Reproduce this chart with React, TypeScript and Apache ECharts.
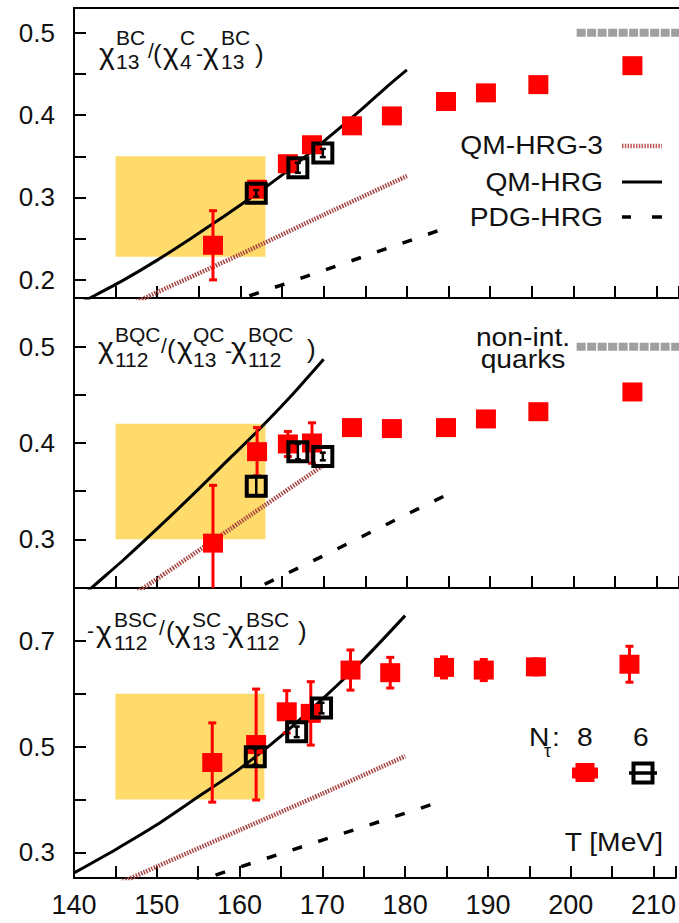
import { useEffect, useRef } from 'react';
import * as echarts from 'echarts';

const W = 679;
const H = 923;
const FONT = '"Liberation Sans", Arial, sans-serif';
const TXT = '#111';

// ---- data ----
const xLabels = [140, 150, 160, 170, 180, 190, 200, 210];
const T8 = [156.7, 162.0, 165.7, 168.6, 173.4, 178.2, 184.7, 189.5, 195.8, 207.1];
const T6 = [161.9, 166.9, 169.9];

const p1Nt8 = [0.242, 0.31, 0.341, 0.364, 0.387, 0.399, 0.4165, 0.427, 0.437, 0.46];
const p1Nt8Err = [0.042, 0.005, 0.005, 0.005, 0.004, 0.004, 0.003, 0.003, 0.003, 0.003];
const p1Nt6 = [0.305, 0.336, 0.354];
const p1Nt6Err = [0.004, 0.006, 0.005];

const p2Nt8 = [0.296, 0.391, 0.399, 0.4, 0.416, 0.415, 0.416, 0.425, 0.4325, 0.453];
const p2Nt8Err = [0.06, 0.025, 0.013, 0.021, 0.007, 0.004, 0.004, 0.004, 0.004, 0.004];
const p2Nt6 = [0.355, 0.391, 0.386];
const p2Nt6Err = [0.01, 0.008, 0.004];

const p3Nt8 = [0.47, 0.504, 0.566, 0.563, 0.645, 0.64, 0.65, 0.645, 0.651, 0.656];
const p3Nt8Err = [0.075, 0.105, 0.04, 0.06, 0.038, 0.029, 0.02, 0.02, 0.015, 0.034];
const p3Nt6 = [0.481, 0.528, 0.573];
const p3Nt6Err = [0.015, 0.01, 0.01];

// theory curves
const qmT1 = [140, 142.3, 146, 150, 154, 158, 162, 166, 170, 174, 178, 180];
const qmV1 = [0.168, 0.18, 0.2, 0.224, 0.25, 0.277, 0.305, 0.335, 0.368, 0.402, 0.438, 0.455];
const qm3T1 = [146, 150, 160, 170, 180];
const qm3V1 = [0.166, 0.185, 0.231, 0.279, 0.326];
const pdgT1 = [158, 165, 175, 185];
const pdgV1 = [0.17, 0.194, 0.229, 0.264];

const qmT2 = [140, 142.3, 146, 150, 154, 158, 162, 166, 170];
const qmV2 = [0.233, 0.251, 0.279, 0.311, 0.344, 0.378, 0.412, 0.448, 0.487];
const qm3T2 = [146, 150, 160, 170];
const qm3V2 = [0.236, 0.259, 0.318, 0.377];
const pdgT2 = [160, 170, 180, 185];
const pdgV2 = [0.241, 0.283, 0.326, 0.347];

const qmT3 = [140, 145, 150, 155, 160, 165, 170, 175, 180];
const qmV3 = [0.261, 0.305, 0.352, 0.405, 0.458, 0.52, 0.59, 0.665, 0.748];
const qm3T3 = [145, 150, 160, 170, 180];
const qm3V3 = [0.238, 0.273, 0.342, 0.411, 0.482];
const pdgT3 = [154, 160, 170, 180, 183.5];
const pdgV3 = [0.241, 0.272, 0.323, 0.374, 0.392];

const quarkT = [200.4, 216];
const quarkV1 = [0.5, 0.5];
const quarkV2 = [0.5, 0.5];

const boxT = [145, 163];
const box1 = [0.228, 0.35];
const box2 = [0.3, 0.42];
const box3 = [0.4, 0.6];

const yRange1 = [0.178, 0.53];
const yRange2 = [0.2494, 0.5506];
const yRange3 = [0.2514, 0.8003];
const yTicks1 = [0.2, 0.25, 0.3, 0.35, 0.4, 0.45, 0.5];
const yLabels1 = [0.2, 0.3, 0.4, 0.5];
const yTicks2 = [0.3, 0.35, 0.4, 0.45, 0.5];
const yLabels2 = [0.3, 0.4, 0.5];
const yTicks3 = [0.3, 0.4, 0.5, 0.6, 0.7];
const yLabels3 = [0.3, 0.5, 0.7];

// ---- helpers ----
const pairs = (a: number[], b: number[]) => a.map((t, i) => [t, b[i]]);
const triples = (a: number[], b: number[], c: number[]) => a.map((t, i) => [t, b[i], c[i]]);

function buildOption() {
  const grids = [8, 298, 588].map((top) => ({ left: 74, top, width: 605, height: 290 }));
  const xAxis: any[] = [];
  for (let i = 0; i < 3; i++) {
    xAxis.push({
      type: 'value', gridIndex: i, position: 'bottom', min: 140, max: 212.7, interval: 5,
      axisLine: { show: true, onZero: false, lineStyle: { color: '#000', width: 2 } },
      axisTick: { show: true, inside: true, length: 12, lineStyle: { color: '#000', width: 2 } },
      axisLabel: {
        show: i === 2, customValues: xLabels, margin: 13, fontSize: 27, fontFamily: FONT, color: TXT,
      },
      splitLine: { show: false },
    });
  }
  for (let i = 0; i < 3; i++) {
    xAxis.push({
      type: 'value', gridIndex: i, position: 'top', min: 140, max: 212.7,
      axisLine: { show: true, onZero: false, lineStyle: { color: '#000', width: 2 } },
      axisTick: { show: false }, axisLabel: { show: false }, splitLine: { show: false },
    });
  }
  const ranges = [yRange1, yRange2, yRange3];
  const ticks = [yTicks1, yTicks2, yTicks3];
  const labs = [yLabels1, yLabels2, yLabels3];
  const yAxis = ranges.map((r, i) => ({
    type: 'value', gridIndex: i, min: r[0], max: r[1],
    axisLine: { show: true, onZero: false, lineStyle: { color: '#000', width: 2 } },
    axisTick: { show: true, inside: true, length: 12, customValues: ticks[i], lineStyle: { color: '#000', width: 2 } },
    axisLabel: {
      show: true, customValues: labs[i], margin: 19, fontSize: 26, fontFamily: FONT, color: TXT,
      formatter: (v: number) => v.toFixed(1),
    },
    splitLine: { show: false },
  }));

  const series: any[] = [];
  const panels = [
    { box: box1, qm: pairs(qmT1, qmV1), qm3: pairs(qm3T1, qm3V1), pdg: pairs(pdgT1, pdgV1), quark: pairs(quarkT, quarkV1),
      r: triples(T8, p1Nt8, p1Nt8Err), b: triples(T6, p1Nt6, p1Nt6Err) },
    { box: box2, qm: pairs(qmT2, qmV2), qm3: pairs(qm3T2, qm3V2), pdg: pairs(pdgT2, pdgV2), quark: pairs(quarkT, quarkV2),
      r: triples(T8, p2Nt8, p2Nt8Err), b: triples(T6, p2Nt6, p2Nt6Err) },
    { box: box3, qm: pairs(qmT3, qmV3), qm3: pairs(qm3T3, qm3V3), pdg: pairs(pdgT3, pdgV3), quark: null,
      r: triples(T8, p3Nt8, p3Nt8Err), b: triples(T6, p3Nt6, p3Nt6Err) },
  ];

  panels.forEach((p, i) => {
    const ax = { xAxisIndex: i, yAxisIndex: i };
    series.push({
      type: 'custom', ...ax, z: 1, clip: true,
      data: [[boxT[0], p.box[0], boxT[1], p.box[1]]],
      encode: { x: [0, 2], y: [1, 3] },
      renderItem: (_: any, api: any) => {
        const a = api.coord([api.value(0), api.value(3)]);
        const b = api.coord([api.value(2), api.value(1)]);
        return { type: 'rect', shape: { x: a[0], y: a[1], width: b[0] - a[0], height: b[1] - a[1] },
          style: { fill: '#fedb6a' } };
      },
    });
    series.push({
      type: 'line', ...ax, z: 2, data: p.qm3, showSymbol: false, symbol: 'none', smooth: 0.2,
      lineStyle: { color: '#a84444', width: 4.5, type: [1.5, 1.3] },
    });
    series.push({
      type: 'line', ...ax, z: 2, data: p.pdg, showSymbol: false, symbol: 'none',
      lineStyle: { color: '#000', width: 3.5, type: [10, 17] },
    });
    series.push({
      type: 'line', ...ax, z: 2, data: p.qm, showSymbol: false, symbol: 'none', smooth: 0.2,
      lineStyle: { color: '#000', width: 3 },
    });
    if (p.quark) {
      series.push({
        type: 'line', ...ax, z: 2, data: p.quark, showSymbol: false, symbol: 'none',
        lineStyle: { color: '#a0a0a0', width: 8, type: [9, 1.5] },
      });
    }
    series.push({
      type: 'custom', ...ax, z: 3, clip: true, data: p.r, encode: { x: 0, y: 1 },
      renderItem: (_: any, api: any) => {
        const x = api.value(0), y = api.value(1), e = api.value(2);
        const c = api.coord([x, y]);
        const t = api.coord([x, y + e]);
        const b = api.coord([x, y - e]);
        const st = { stroke: '#ff0000', lineWidth: 3 };
        return { type: 'group', children: [
          { type: 'line', shape: { x1: c[0], y1: t[1], x2: c[0], y2: b[1] }, style: st },
          { type: 'line', shape: { x1: c[0] - 4, y1: t[1], x2: c[0] + 4, y2: t[1] }, style: st },
          { type: 'line', shape: { x1: c[0] - 4, y1: b[1], x2: c[0] + 4, y2: b[1] }, style: st },
          { type: 'rect', shape: { x: c[0] - 10, y: c[1] - 9.5, width: 20, height: 19 }, style: { fill: '#ff0000' } },
        ] };
      },
    });
    series.push({
      type: 'custom', ...ax, z: 4, clip: true, data: p.b, encode: { x: 0, y: 1 },
      renderItem: (_: any, api: any) => {
        const x = api.value(0), y = api.value(1), e = api.value(2);
        const c = api.coord([x, y]);
        const t = api.coord([x, y + e]);
        const b = api.coord([x, y - e]);
        const st = { stroke: '#000', lineWidth: 2.5 };
        return { type: 'group', children: [
          { type: 'rect', shape: { x: c[0] - 9.5, y: c[1] - 9.5, width: 19, height: 19 },
            style: { fill: 'none', stroke: '#000', lineWidth: 4 } },
          { type: 'line', shape: { x1: c[0], y1: t[1], x2: c[0], y2: b[1] }, style: st },
          { type: 'line', shape: { x1: c[0] - 3, y1: t[1], x2: c[0] + 3, y2: t[1] }, style: st },
          { type: 'line', shape: { x1: c[0] - 3, y1: b[1], x2: c[0] + 3, y2: b[1] }, style: st },
        ] };
      },
    });
  });

  // ---- annotations ----
  const SX = 1.13;
  const txt = (text: string, x: number, y: number, size: number, align = 'left', sx = 1) => ({
    type: 'text', x, y, scaleX: sx, z: 20,
    style: { text, x: 0, y: 0, fontSize: size, fontFamily: FONT, fill: TXT, align, verticalAlign: 'middle' },
  });
  const formula = (pieces: any[]) => pieces.map((p) => txt(p[0], p[1], p[2], p[3]));
  const S = 21;

  const title1 = formula([
    ['χ', 99, 53, 30], ['BC', 116, 37, S], ['13', 116, 61, S], ['/', 148, 50, S], ['(', 153, 54, 26],
    ['χ', 163, 53, 30], ['C', 180, 37, S], ['4', 180, 61, S], ['-', 196, 53, S], ['χ', 203, 53, 30],
    ['BC', 221, 37, S], ['13', 221, 61, S], [')', 255, 54, 26],
  ]);
  const title2 = formula([
    ['χ', 98, 347, 30], ['BQC', 115, 334, S], ['112', 115, 359, S], ['/', 161, 345, S], ['(', 167, 349, 26],
    ['χ', 177, 347, 30], ['QC', 193, 334, S], ['13', 193, 359, S], ['-', 225, 350, S], ['χ', 231, 347, 30],
    ['BQC', 248, 334, S], ['112', 248, 359, S], [')', 307, 349, 26],
  ]);
  const title3 = formula([
    ['-', 87, 630, S], ['χ', 96, 631, 30], ['BSC', 114, 619, S], ['112', 114, 642, S], ['/', 159, 627, S],
    ['(', 166, 631, 26], ['χ', 175, 631, 30], ['SC', 192, 619, S], ['13', 192, 642, S], ['-', 222, 632, S],
    ['χ', 228, 631, 30], ['BSC', 246, 619, S], ['112', 246, 642, S], [')', 298, 631, 26],
  ]);

  const graphic: any[] = [
    ...title1, ...title2, ...title3,
    txt('QM-HRG-3', 603, 146, 25, 'right', SX),
    txt('QM-HRG', 603, 183, 25, 'right', SX),
    txt('PDG-HRG', 603, 218, 25, 'right', SX),
    { type: 'line', z: 20, shape: { x1: 622, y1: 146, x2: 662, y2: 146 }, style: { stroke: '#c05a5a', lineWidth: 4.5, lineDash: [1.5, 1.3] } },
    { type: 'line', z: 20, shape: { x1: 622, y1: 182, x2: 662, y2: 182 }, style: { stroke: '#000', lineWidth: 3 } },
    { type: 'line', z: 20, shape: { x1: 622, y1: 217, x2: 631, y2: 217 }, style: { stroke: '#000', lineWidth: 3.5 } },
    { type: 'line', z: 20, shape: { x1: 652, y1: 217, x2: 662, y2: 217 }, style: { stroke: '#000', lineWidth: 3.5 } },
    txt('non-int.', 523, 338, 25, 'center', SX),
    txt('quarks', 523, 360, 25, 'center', SX),
    txt('N', 529, 738, 25, 'left', SX),
    txt('τ', 544, 751, 18, 'left'),
    txt(':', 552, 738, 25, 'left', SX),
    txt('8', 577, 738, 25, 'left', SX),
    txt('6', 633, 738, 25, 'left', SX),
    { type: 'rect', z: 20, shape: { x: 575.5, y: 763, width: 19, height: 19 }, style: { fill: '#ff0000' } },
    { type: 'rect', z: 20, shape: { x: 572, y: 767.5, width: 26, height: 11 }, style: { fill: '#ff0000' } },
    { type: 'rect', z: 20, shape: { x: 633.5, y: 763.5, width: 19, height: 19 }, style: { fill: 'none', stroke: '#000', lineWidth: 4 } },
    { type: 'line', z: 20, shape: { x1: 629, y1: 773, x2: 657, y2: 773 }, style: { stroke: '#000', lineWidth: 3.5 } },
    txt('T [MeV]', 663, 843, 25, 'right', SX),
  ];

  return { animation: false, backgroundColor: '#fff', grid: grids, xAxis, yAxis, series, graphic };
}

export default function App() {
  const ref = useRef<HTMLDivElement>(null);
  useEffect(() => {
    document.body.style.margin = '0';
    const chart = echarts.init(ref.current!, null, { renderer: 'svg' });
    chart.setOption(buildOption() as any);
    return () => chart.dispose();
  }, []);
  return <div ref={ref} style={{ width: W, height: H, overflow: 'hidden' }} />;
}
